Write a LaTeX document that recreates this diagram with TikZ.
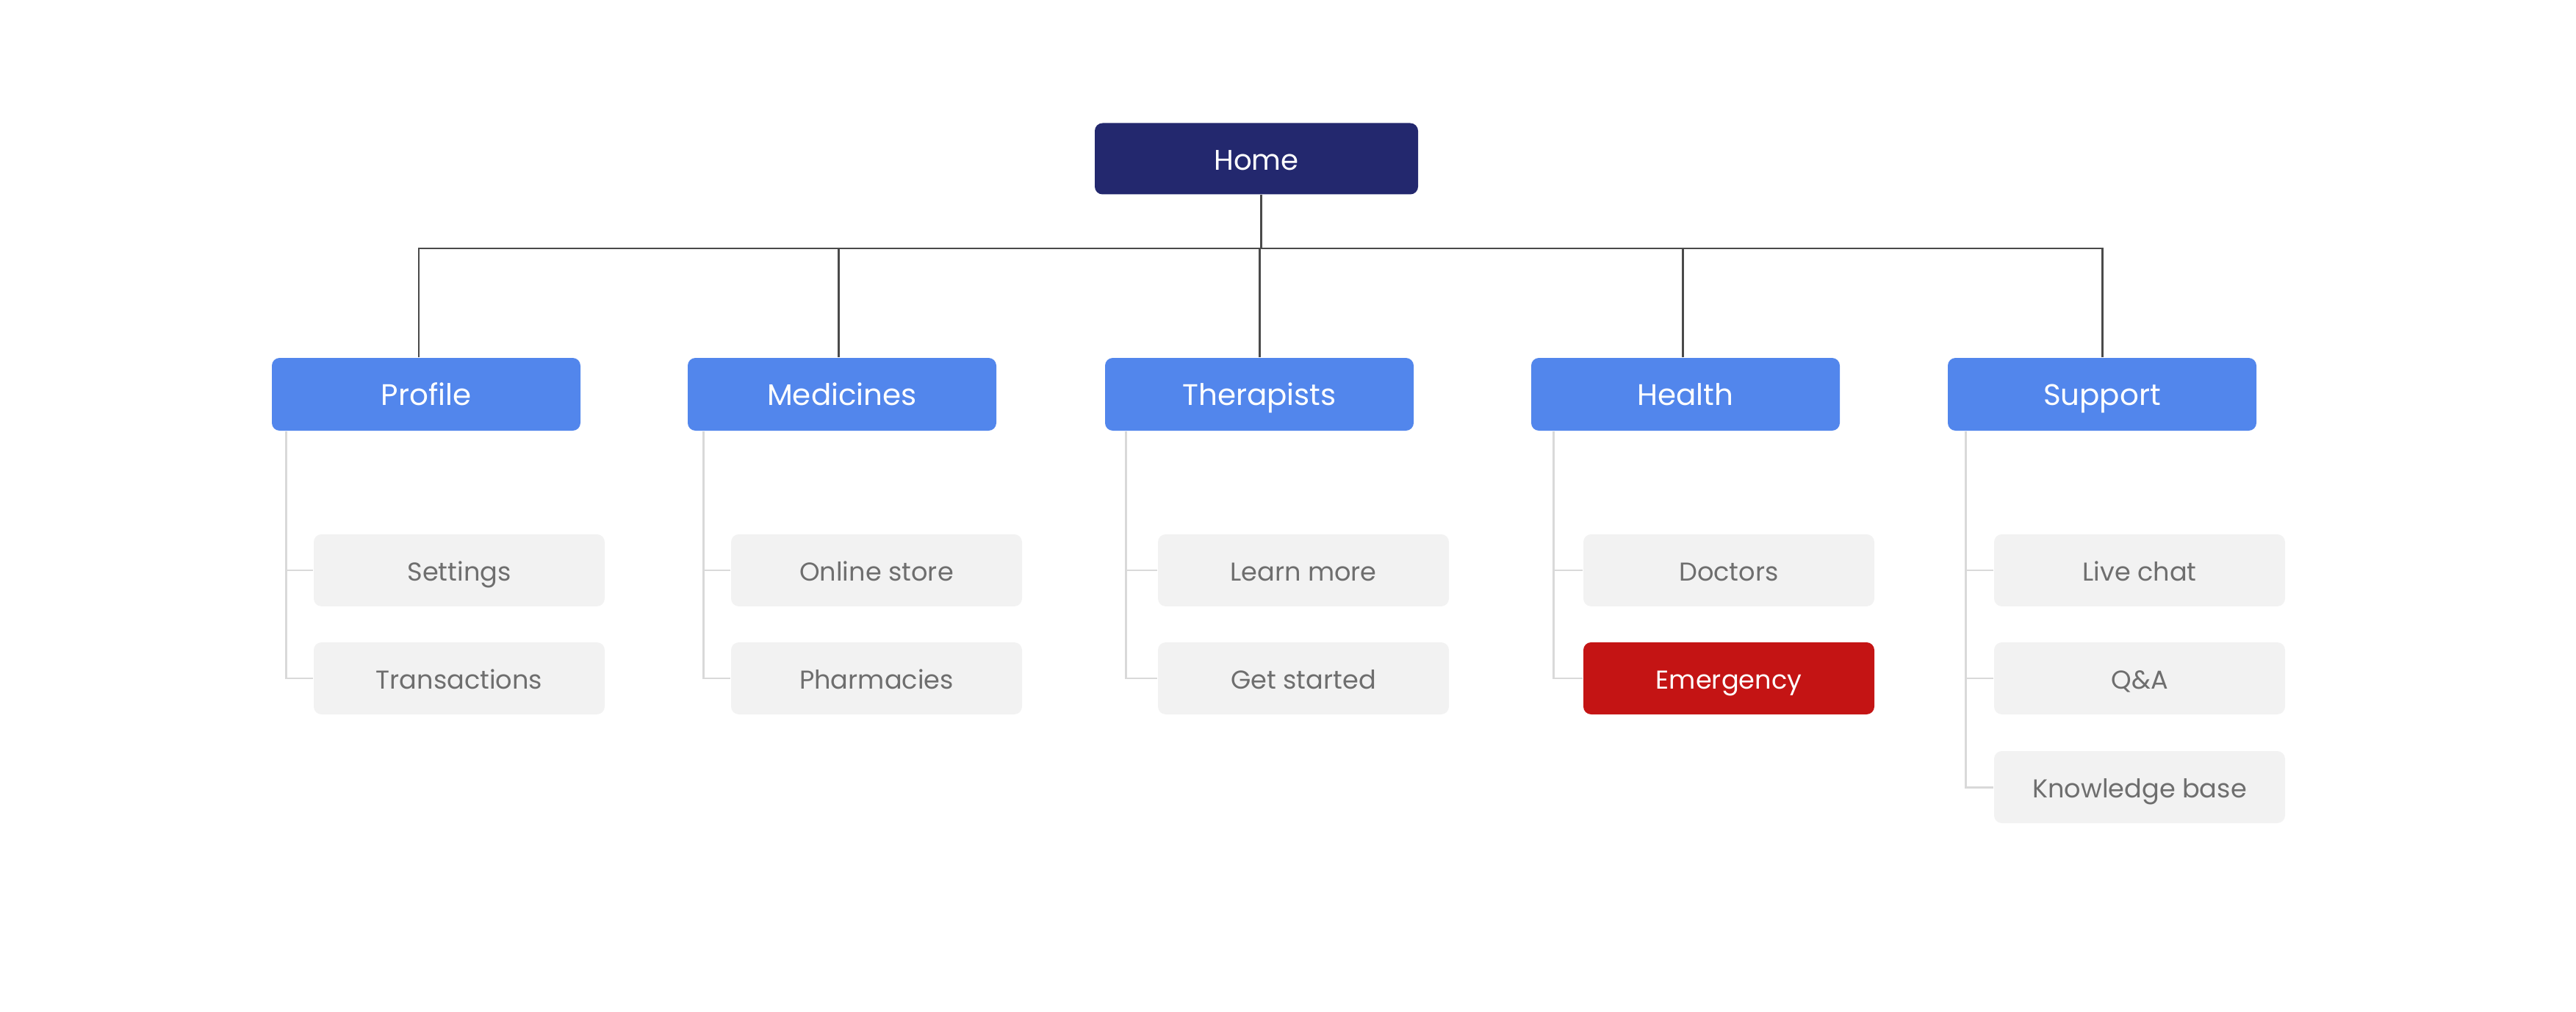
\documentclass[tikz,border=0pt]{standalone}
\usepackage{fontspec}
\setmainfont{Poppins}
\definecolor{navy}{RGB}{35, 40, 110}
\definecolor{menublue}{RGB}{82, 134, 236}
\definecolor{subgray}{RGB}{242, 242, 242}
\definecolor{subtext}{RGB}{110, 110, 110}
\definecolor{alertred}{RGB}{196, 20, 20}
\definecolor{trunkgray}{RGB}{74, 74, 74}
\definecolor{twiggray}{RGB}{217, 217, 217}
\usetikzlibrary{positioning}

\begin{document}
\begin{tikzpicture}[
  homebox/.style={fill=navy, rounded corners=3pt, minimum width=4.40cm, minimum height=0.97cm, text height=0.86em, text depth=0pt, text=white, font=\fontsize{11}{13}\selectfont},
  topbox/.style={fill=menublue, rounded corners=3pt, minimum width=4.20cm, minimum height=0.99cm, text height=0.86em, text depth=0pt, text=white, font=\fontsize{11.5}{13}\selectfont},
  subbox/.style={fill=subgray, rounded corners=3pt, minimum width=3.96cm, minimum height=0.98cm, text height=0.84em, text depth=0pt, text=subtext, font=\fontsize{10}{12}\selectfont},
  alertbox/.style={subbox, fill=alertred, text=white},
  trunk/.style={draw=trunkgray, line width=0.85pt},
  twig/.style={draw=twiggray, line width=0.85pt}
]
  \useasboundingbox (0,0) rectangle (35.06,-13.77);

  % root
  \node[homebox] (home) at (17.10,-2.16) {Home};

  % first level
  \node[topbox] (profile)    at (5.80,-5.365)  {Profile};
  \node[topbox] (medicines)  at (11.46,-5.365) {Medicines};
  \node[topbox] (therapists) at (17.14,-5.365) {Therapists};
  \node[topbox] (health)     at (22.94,-5.365) {Health};
  \node[topbox] (support)    at (28.61,-5.365) {Support};

  % second level
  \node[subbox] (settings)     at (6.25,-7.76)  {Settings};
  \node[subbox] (transactions) at (6.25,-9.23)  {Transactions};
  \node[subbox] (store)        at (11.93,-7.76) {Online store};
  \node[subbox] (pharmacies)   at (11.93,-9.23) {Pharmacies};
  \node[subbox] (learn)        at (17.74,-7.76) {Learn more};
  \node[subbox] (started)      at (17.74,-9.23) {Get started};
  \node[subbox] (doctors)      at (23.53,-7.76) {Doctors};
  \node[alertbox] (emergency)  at (23.53,-9.23) {Emergency};
  \node[subbox] (chat)         at (29.12,-7.76) {Live chat};
  \node[subbox] (qa)           at (29.12,-9.23) {Q\&A};
  \node[subbox] (knowledge)    at (29.12,-10.71) {Knowledge base};

  % bus from the root
  \coordinate (bus) at (17.16,-3.38);
  \draw[trunk] (bus) -- (bus |- home.south);
  \draw[trunk] ([xshift=-1mm]profile.north) |- (bus);
  \draw[trunk] ([xshift=-0.5mm]medicines.north) |- (bus);
  \draw[trunk] (therapists.north) |- (bus);
  \draw[trunk] ([xshift=-0.4mm]health.north) |- (bus);
  \draw[trunk] (support.north) |- (bus);

  % side rails
  \coordinate (profrail) at ([xshift=2.0mm]profile.south west);
  \coordinate (medrail)  at ([xshift=2.2mm]medicines.south west);
  \coordinate (thrail)   at ([xshift=2.9mm]therapists.south west);
  \coordinate (hlthrail) at ([xshift=3.1mm]health.south west);
  \coordinate (suprail)  at ([xshift=2.5mm]support.south west);

  \draw[twig] (profrail) |- (transactions.west);
  \draw[twig] (settings.west) -- (settings.west -| profrail);
  \draw[twig] (medrail) |- (pharmacies.west);
  \draw[twig] (store.west) -- (store.west -| medrail);
  \draw[twig] (thrail) |- (started.west);
  \draw[twig] (learn.west) -- (learn.west -| thrail);
  \draw[twig] (hlthrail) |- (emergency.west);
  \draw[twig] (doctors.west) -- (doctors.west -| hlthrail);
  \draw[twig] (suprail) |- (knowledge.west);
  \draw[twig] (chat.west) -- (chat.west -| suprail);
  \draw[twig] (qa.west) -- (qa.west -| suprail);
\end{tikzpicture}
\end{document}
